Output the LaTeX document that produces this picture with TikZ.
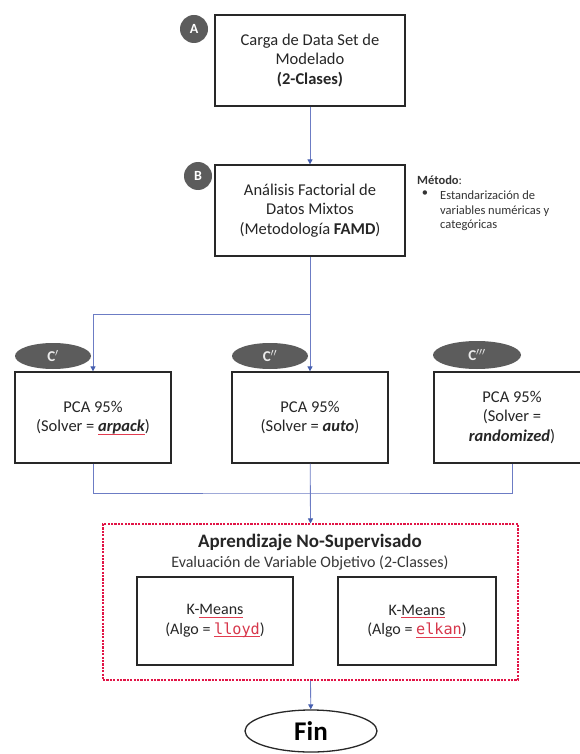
\documentclass[tikz,border=0pt]{standalone}
\usepackage{fontspec}
\setmainfont{Carlito}
\setmonofont[Scale=0.95]{DejaVu Sans Mono}
\usetikzlibrary{arrows.meta,shapes.geometric}

\definecolor{linkblue}{RGB}{108,124,196}
\definecolor{tipblue}{RGB}{70,95,175}
\definecolor{boxline}{RGB}{40,40,40}
\definecolor{badgegray}{RGB}{92,92,92}
\definecolor{spellred}{RGB}{225,60,80}
\definecolor{codered}{RGB}{215,55,75}
\definecolor{frame}{RGB}{225,20,70}

% thin red spell-check line under a word
\newcommand\spellmark[1]{\setbox0\hbox{#1}\rlap{\raisebox{-2.6pt}{\textcolor{spellred}{\rule{\wd0}{0.6pt}}}}\box0}

\tikzset{
  procbox/.style={draw=boxline, line width=1.3pt, fill=white, rectangle,
    align=center, inner sep=2pt, text=black!85, font=\fontsize{16.5}{19.5}\selectfont},
  roundbadge/.style={circle, fill=badgegray, text=white, minimum size=28pt,
    inner sep=0pt, font=\fontsize{14}{14}\selectfont\bfseries},
  ovalbadge/.style={ellipse, fill=badgegray, text=white!92!black, minimum width=76pt,
    minimum height=26pt, inner sep=0pt, font=\fontsize{15}{15}\selectfont\bfseries},
  conn/.style={draw=linkblue, line width=0.85pt},
  tip/.style={-{Triangle[length=5pt,width=5pt,color=tipblue]}},
  smalltext/.style={font=\fontsize{12.5}{14.5}\selectfont, inner sep=0pt, text=black!80},
}

\begin{document}
\begin{tikzpicture}[x=1pt, y=-1pt]
\useasboundingbox[fill=white] (0,0) rectangle (580,754);

% step badges (drawn first, boxes sit on top of them)
\node[roundbadge] (badgeA) at (194,29) {A};
\node[roundbadge] (badgeB) at (198,176) {B};

% load and FAMD steps
\node[procbox, minimum width=190pt, minimum height=91pt] (load) at (310,60.5)
  {Carga de Data Set de\\Modelado\\\textbf{(2-Clases)}};
\node[procbox, minimum width=190pt, minimum height=91pt] (famd) at (310,210.5)
  {Análisis Factorial de\\Datos Mixtos\\(Metodología \textbf{FAMD})};

% method note
\node[smalltext, anchor=north west] (mhead) at (417,176) {\textbf{Método}:};
\node[smalltext, anchor=north west, align=left] (mbody) at (440,191)
  {Estandarización de\\variables numéricas y\\categóricas};
\node[smalltext, anchor=north] (mbullet) at (425,191) {\textbullet};

% PCA badges
\node[ovalbadge] (badgeC1) at (53,356) {C$^{\prime}$};
\node[ovalbadge] (badgeC2) at (270,356) {C$^{\prime\prime}$};
\node[ovalbadge, minimum width=88pt, minimum height=28pt] (badgeC3) at (477,355) {C$^{\prime\prime\prime}$};

% PCA variants
\node[procbox, minimum width=156pt, minimum height=91pt] (pca1) at (93,417.5)
  {PCA 95\%\\(Solver = \textbf{\textit{\spellmark{arpack}}})};
\node[procbox, minimum width=156pt, minimum height=91pt] (pca2) at (310,417.5)
  {PCA 95\%\\(Solver = \textbf{\textit{auto}})};
\node[procbox, minimum width=156pt, minimum height=91pt] (pca3) at (512,417.5)
  {PCA 95\%\\(Solver =\\\textbf{\textit{randomized}})};

% unsupervised learning frame
\node[draw=frame, line width=1.1pt, dash pattern=on 2.2pt off 1.2pt,
  minimum width=415pt, minimum height=156pt, inner sep=0pt] (learn) at (310.5,602) {};
\node[font=\fontsize{19}{19}\selectfont\bfseries, text=black!85] (ltitle) at (310,542)
  {Aprendizaje No-Supervisado};
\node[font=\fontsize{16}{16}\selectfont, text=black!78] (lsub) at (310,563)
  {Evaluación de Variable Objetivo (2-Classes)};
\node[procbox, font=\fontsize{16}{19.5}\selectfont, minimum width=156pt, minimum height=88pt] (km1) at (215,621)
  {K-\spellmark{Means}\\(Algo = \textcolor{codered}{\spellmark{\ttfamily lloyd}})};
\node[procbox, font=\fontsize{16}{19.5}\selectfont, minimum width=158pt, minimum height=88pt] (km2) at (417,621)
  {K-\spellmark{Means}\\(Algo = \textcolor{codered}{\spellmark{\ttfamily elkan}})};

% end
\node[ellipse, draw=boxline, line width=1.3pt, minimum width=132pt, minimum height=42pt,
  inner sep=0pt, font=\fontsize{27}{27}\selectfont\bfseries] (fin) at (311,731) {Fin};

% connectors
\coordinate (split) at (310,314);
\coordinate (merge) at (310,493);
\draw[conn, tip] (load) -- (famd);
\draw[conn, tip] (famd) -- (pca2);
\draw[conn, tip] (split) -| (pca1.north);
\draw[conn] (pca1.south) |- (merge) -| (pca3.south);
\draw[conn, tip] (pca2) -- (learn.north);
\draw[conn, tip] (learn.south) -- (fin);
\end{tikzpicture}
\end{document}
